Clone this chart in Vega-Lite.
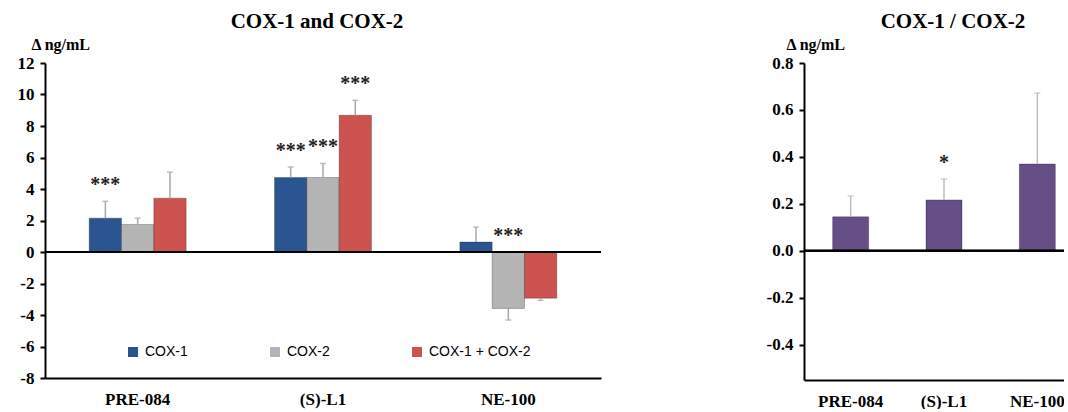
{
  "$schema": "https://vega.github.io/schema/vega-lite/v6.json",
  "background": "white",
  "padding": {"left": 17, "top": 11, "right": -21, "bottom": 0},
  "spacing": 164,
  "config": {
    "view": {"stroke": null},
    "font": "Liberation Serif",
    "title": {"font": "Liberation Serif", "fontWeight": "bold", "fontSize": 21, "color": "black", "anchor": "middle", "frame": "group"},
    "axis": {
      "domainColor": "black", "domainWidth": 2, "tickColor": "black", "tickWidth": 2, "tickSize": 5,
      "labelFont": "Liberation Serif", "labelFontWeight": "bold", "labelFontSize": 17, "labelColor": "black",
      "titleFont": "Liberation Serif", "titleFontWeight": "bold", "titleFontSize": 16, "titleColor": "black",
      "grid": false, "labelOverlap": false
    }
  },
  "hconcat": [
    {
      "width": 556,
      "height": 315,
      "title": {"text": "COX-1 and COX-2", "dx": -6, "offset": 4},
      "data": {"values": [
        {"compound": "PRE-084", "series": "COX-1", "value": 2.15, "err": 3.22, "top": 3.22, "sig": "***"},
        {"compound": "PRE-084", "series": "COX-2", "value": 1.75, "err": 2.15, "top": 2.15, "sig": ""},
        {"compound": "PRE-084", "series": "COX-1 + COX-2", "value": 3.42, "err": 5.07, "top": 5.07, "sig": ""},
        {"compound": "(S)-L1", "series": "COX-1", "value": 4.73, "err": 5.4, "top": 5.4, "sig": "***"},
        {"compound": "(S)-L1", "series": "COX-2", "value": 4.73, "err": 5.62, "top": 5.62, "sig": "***"},
        {"compound": "(S)-L1", "series": "COX-1 + COX-2", "value": 8.68, "err": 9.63, "top": 9.63, "sig": "***"},
        {"compound": "NE-100", "series": "COX-1", "value": 0.63, "err": 1.58, "top": 1.58, "sig": ""},
        {"compound": "NE-100", "series": "COX-2", "value": -3.58, "err": -4.32, "top": 0, "sig": "***"},
        {"compound": "NE-100", "series": "COX-1 + COX-2", "value": -2.93, "err": -3.07, "top": 0, "sig": ""}
      ]},
      "layer": [
        {
          "mark": {"type": "bar", "stroke": "black", "strokeOpacity": 0.25, "strokeWidth": 1},
          "encoding": {
            "x": {"field": "compound", "type": "nominal", "sort": ["PRE-084", "(S)-L1", "NE-100"],
                  "scale": {"paddingInner": 0.477, "paddingOuter": 0.2385},
                  "axis": {"title": null, "labelAngle": 0, "ticks": false, "labelPadding": 13}},
            "xOffset": {"field": "series", "type": "nominal", "sort": ["COX-1", "COX-2", "COX-1 + COX-2"], "scale": {"paddingInner": 0, "paddingOuter": 0}},
            "y": {"field": "value", "type": "quantitative",
                  "scale": {"domain": [-8, 12], "nice": false, "zero": false},
                  "axis": {"title": "Δ ng/mL", "titleAngle": 0, "titleX": -14, "titleY": -14, "titleAlign": "left", "titleBaseline": "alphabetic",
                           "values": [-8, -6, -4, -2, 0, 2, 4, 6, 8, 10, 12], "tickCount": 11, "labelOverlap": false, "labelPadding": 6,
                           "labelExpr": "datum.value < 0 ? '-' + format(-datum.value, 'd') : format(datum.value, 'd')"}},
            "color": {"field": "series", "type": "nominal", "sort": ["COX-1", "COX-2", "COX-1 + COX-2"],
                      "scale": {"domain": ["COX-1", "COX-2", "COX-1 + COX-2"], "range": ["#2A5591", "#B4B4B4", "#CD5351"]},
                      "legend": {"orient": "none", "legendX": 81, "legendY": 282, "direction": "horizontal", "title": null,
                                 "symbolType": "square", "symbolSize": 100, "symbolStrokeWidth": 0, "symbolOpacity": 1,
                                 "labelFont": "Liberation Sans", "labelFontSize": 14, "labelColor": "black",
                                 "columnPadding": 80, "labelOffset": 5}}
          }
        },
        {
          "mark": {"type": "rule", "color": "#A8A8A8", "strokeWidth": 1.5},
          "encoding": {
            "x": {"field": "compound", "type": "nominal", "sort": ["PRE-084", "(S)-L1", "NE-100"]},
            "xOffset": {"field": "series", "type": "nominal", "sort": ["COX-1", "COX-2", "COX-1 + COX-2"]},
            "y": {"field": "value", "type": "quantitative"},
            "y2": {"field": "err"}
          }
        },
        {
          "mark": {"type": "tick", "color": "#A8A8A8", "orient": "horizontal", "size": 6, "thickness": 1.5},
          "encoding": {
            "x": {"field": "compound", "type": "nominal", "sort": ["PRE-084", "(S)-L1", "NE-100"]},
            "xOffset": {"field": "series", "type": "nominal", "sort": ["COX-1", "COX-2", "COX-1 + COX-2"]},
            "y": {"field": "err", "type": "quantitative"}
          }
        },
        {
          "mark": {"type": "rule", "color": "black", "strokeWidth": 2},
          "encoding": {"y": {"datum": 0}}
        },
        {
          "mark": {"type": "text", "dy": -16, "baseline": "middle", "font": "Liberation Serif", "fontWeight": "bold", "fontSize": 20, "color": "#222222"},
          "encoding": {
            "x": {"field": "compound", "type": "nominal", "sort": ["PRE-084", "(S)-L1", "NE-100"]},
            "xOffset": {"field": "series", "type": "nominal", "sort": ["COX-1", "COX-2", "COX-1 + COX-2"]},
            "y": {"field": "top", "type": "quantitative"},
            "text": {"field": "sig"}
          }
        }
      ]
    },
    {
      "width": 280,
      "height": 317,
      "title": {"text": "COX-1 / COX-2", "dx": 9, "offset": 4},
      "data": {"values": [
        {"compound": "PRE-084", "value": 0.145, "err": 0.234, "sig": ""},
        {"compound": "(S)-L1", "value": 0.217, "err": 0.306, "sig": "*"},
        {"compound": "NE-100", "value": 0.37, "err": 0.672, "sig": ""}
      ]},
      "layer": [
        {
          "mark": {"type": "bar", "color": "#664E87", "stroke": "black", "strokeOpacity": 0.25, "strokeWidth": 1},
          "encoding": {
            "x": {"field": "compound", "type": "nominal", "sort": ["PRE-084", "(S)-L1", "NE-100"],
                  "scale": {"paddingInner": 0.614, "paddingOuter": 0.307},
                  "axis": {"title": null, "labelAngle": 0, "ticks": false, "labelPadding": 13}},
            "y": {"field": "value", "type": "quantitative",
                  "scale": {"domain": [-0.55, 0.8], "nice": false, "zero": false},
                  "axis": {"title": "Δ ng/mL", "titleAngle": 0, "titleX": -18, "titleY": -14, "titleAlign": "left", "titleBaseline": "alphabetic",
                           "values": [-0.4, -0.2, 0, 0.2, 0.4, 0.6, 0.8], "labelOverlap": false, "labelPadding": 6,
                           "labelExpr": "datum.value < 0 ? '-' + format(-datum.value, '.1f') : format(datum.value, '.1f')"}}
          }
        },
        {
          "mark": {"type": "rule", "color": "#BDBDBD", "strokeWidth": 1.5},
          "encoding": {
            "x": {"field": "compound", "type": "nominal", "sort": ["PRE-084", "(S)-L1", "NE-100"]},
            "y": {"field": "value", "type": "quantitative"},
            "y2": {"field": "err"}
          }
        },
        {
          "mark": {"type": "tick", "color": "#BDBDBD", "orient": "horizontal", "size": 6, "thickness": 1.5},
          "encoding": {
            "x": {"field": "compound", "type": "nominal", "sort": ["PRE-084", "(S)-L1", "NE-100"]},
            "y": {"field": "err", "type": "quantitative"}
          }
        },
        {
          "mark": {"type": "rule", "color": "black", "strokeWidth": 2},
          "encoding": {"y": {"datum": 0}}
        },
        {
          "mark": {"type": "text", "dy": -16, "baseline": "middle", "font": "Liberation Serif", "fontWeight": "bold", "fontSize": 20, "color": "#222222"},
          "encoding": {
            "x": {"field": "compound", "type": "nominal", "sort": ["PRE-084", "(S)-L1", "NE-100"]},
            "y": {"field": "err", "type": "quantitative"},
            "text": {"field": "sig"}
          }
        }
      ]
    }
  ]
}
